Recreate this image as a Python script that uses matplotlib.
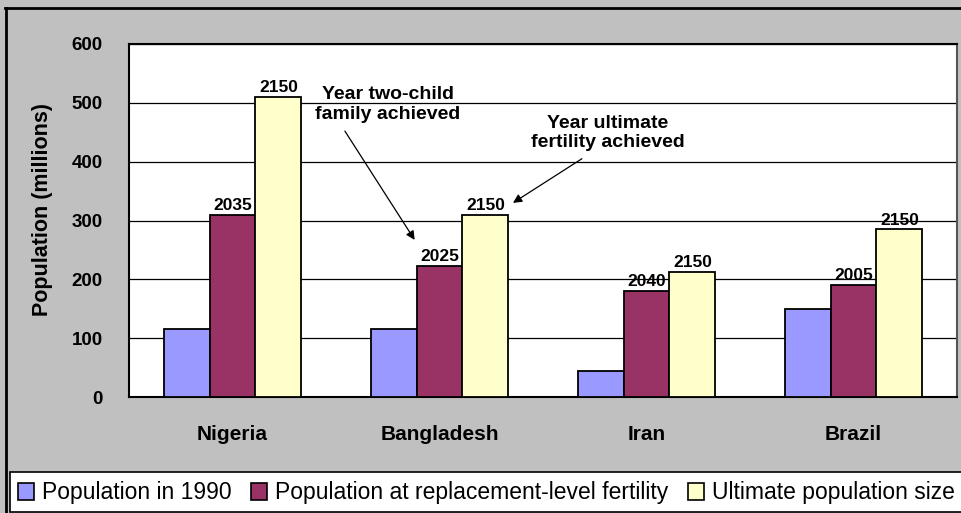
import matplotlib
matplotlib.use("Agg")
import matplotlib.pyplot as plt
from matplotlib.patches import Patch, Rectangle
from matplotlib.lines import Line2D
import numpy as np

plt.rcParams['font.family'] = ['Liberation Sans', 'DejaVu Sans']

countries = ["Nigeria", "Bangladesh", "Iran", "Brazil"]
pop_1990 = [115, 115, 44, 149]
pop_replacement = [309, 223, 180, 190]
pop_ultimate = [510, 309, 213, 285]
year_replacement = ["2035", "2025", "2040", "2005"]
year_ultimate = ["2150", "2150", "2150", "2150"]
series_names = ["Population in 1990",
                "Population at replacement-level fertility",
                "Ultimate population size"]
colors = ["#9999FF", "#993366", "#FFFFCC"]
yticks = [0, 100, 200, 300, 400, 500, 600]

W, H = 962, 513
fig = plt.figure(figsize=(W / 100, H / 100), dpi=100)
fig.patch.set_facecolor("#C0C0C0")

ax = fig.add_axes([129 / W, 1 - 397 / H, 828 / W, 353 / H])
ax.set_facecolor("white")

x = np.arange(len(countries))
bw = 0.222
series = [pop_1990, pop_replacement, pop_ultimate]
for i, (vals, c) in enumerate(zip(series, colors)):
    ax.bar(x + (i - 1) * bw, vals, width=bw, color=c, edgecolor="black",
           linewidth=1.3, zorder=3)

for xi, v, t in zip(x, pop_replacement, year_replacement):
    ax.text(xi, v + 3, t, ha="center", va="bottom", fontsize=12.5,
            fontweight="bold", zorder=4)
for xi, v, t in zip(x, pop_ultimate, year_ultimate):
    ax.text(xi + bw, v + 3, t, ha="center", va="bottom", fontsize=12.5,
            fontweight="bold", zorder=4)

ax.set_xlim(-0.5, len(countries) - 0.5)
ax.set_ylim(0, 600)
ax.set_yticks(yticks)
ax.set_yticklabels([str(t) for t in yticks], fontsize=13.5, fontweight="bold")
ax.set_xticks(x)
ax.set_xticklabels(countries, fontsize=15, fontweight="bold")
ax.tick_params(axis="x", length=0, pad=20)
ax.tick_params(axis="y", length=0, pad=19)
ax.grid(axis="y", color="black", linewidth=0.9, zorder=0)
for s in ax.spines.values():
    s.set_color("black")
    s.set_linewidth(1.5)
ax.spines["right"].set_color("#555555")

ax.set_ylabel("Population (millions)", fontsize=15.5, fontweight="bold")
ax.yaxis.set_label_coords(-76 / 828, 0.53)

# annotation texts
ax.text(0.75, 497, "Year two-child\nfamily achieved", ha="center", va="center",
        fontsize=14, fontweight="bold", linespacing=1.2)
ax.text(1.814, 449, "Year ultimate\nfertility achieved", ha="center", va="center",
        fontsize=14, fontweight="bold", linespacing=1.2)
# arrows
ax.annotate("", xy=(0.88, 267), xytext=(0.543, 452),
            arrowprops=dict(arrowstyle="-|>", color="black", lw=0.9,
                            shrinkA=0, shrinkB=0, mutation_scale=13))
ax.annotate("", xy=(1.355, 330), xytext=(1.688, 405),
            arrowprops=dict(arrowstyle="-|>", color="black", lw=0.9,
                            shrinkA=0, shrinkB=0, mutation_scale=13))

# outer frame
fig.add_artist(Line2D([5.5 / W, 5.5 / W], [0, 1 - 8 / H], color="black",
                      lw=2, transform=fig.transFigure))
fig.add_artist(Line2D([5 / W, 1], [1 - 8 / H, 1 - 8 / H], color="black",
                      lw=2, transform=fig.transFigure))
# legend box
fig.add_artist(Rectangle((10 / W, 1 - 512 / H), (W - 8) / W, 40 / H,
                         facecolor="white", edgecolor="black", lw=1.2,
                         transform=fig.transFigure))

handles = [Patch(facecolor=c, edgecolor="black", linewidth=1.2) for c in colors]
fig.legend(handles, series_names, loc="center left",
           bbox_to_anchor=(18 / W, 1 - 493 / H), ncol=3, frameon=False,
           fontsize=16.5, handlelength=0.7, handleheight=0.8,
           handletextpad=0.35, columnspacing=0.85, borderpad=0, borderaxespad=0)

fig.savefig("out.png", dpi=100, facecolor=fig.get_facecolor())
